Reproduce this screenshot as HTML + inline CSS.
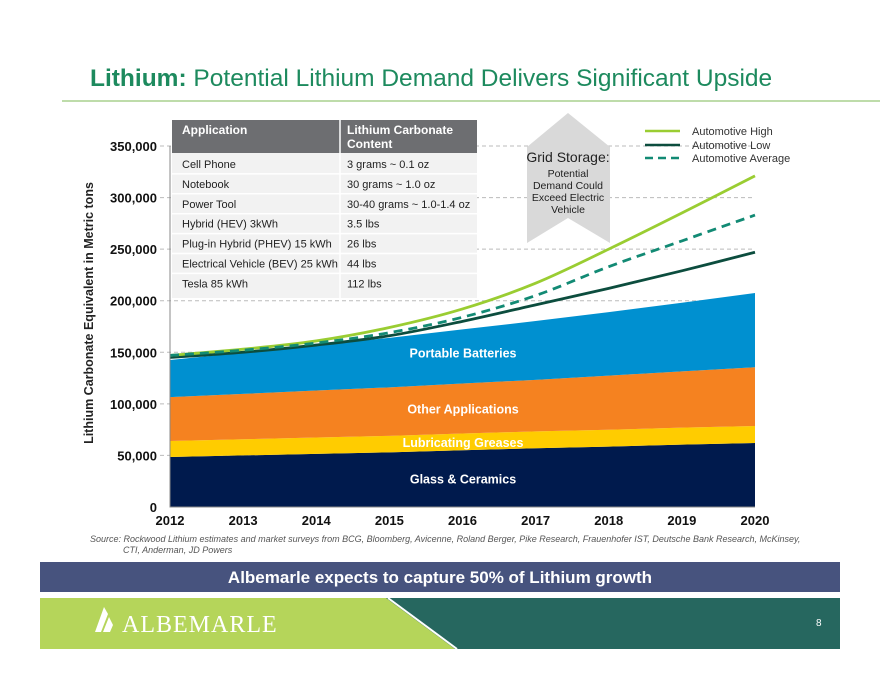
<!DOCTYPE html>
<html><head><meta charset="utf-8"><style>
body{margin:0;background:#fff;font-family:"Liberation Sans",Arial,sans-serif;}
svg{display:block}
</style></head><body>
<svg id="c" width="880" height="680" viewBox="0 0 880 680" xmlns="http://www.w3.org/2000/svg" font-family="Liberation Sans, Arial, sans-serif">
<text x="90" y="86" font-size="24.5" fill="#1d8a5e"><tspan font-weight="bold">Lithium:</tspan> Potential Lithium Demand Delivers Significant Upside</text>
<line x1="62" y1="101" x2="880" y2="101" stroke="#a8d08d" stroke-width="1.5"/>
<g id="grid"></g>
<g id="areas"></g>
<g id="lines"></g>
<g id="axes"></g>
<text transform="translate(93,313) rotate(-90)" text-anchor="middle" font-size="12.5" font-weight="bold" fill="#222">Lithium Carbonate Equivalent in Metric tons</text>
<g id="table"></g>
<g>
<polygon points="527,147 568,113 610,147 610,243 568,218 527,243" fill="#d9d9d9"/>
<text x="568" y="162" text-anchor="middle" font-size="14" fill="#222">Grid Storage:</text>
<text x="568" y="177" text-anchor="middle" font-size="10.5" fill="#222">Potential</text>
<text x="568" y="189" text-anchor="middle" font-size="10.5" fill="#222">Demand Could</text>
<text x="568" y="201" text-anchor="middle" font-size="10.5" fill="#222">Exceed Electric</text>
<text x="568" y="213" text-anchor="middle" font-size="10.5" fill="#222">Vehicle</text>
</g>
<g font-size="11" fill="#333">
<g><line x1="645" y1="131" x2="680" y2="131" stroke="#9acd32" stroke-width="2.5"/><text x="692" y="135">Automotive High</text></g>
<g><line x1="645" y1="145" x2="680" y2="145" stroke="#0c4d3e" stroke-width="2.5"/><text x="692" y="149">Automotive Low</text></g>
<g><line x1="645" y1="158" x2="680" y2="158" stroke="#128a74" stroke-width="2.5" stroke-dasharray="8,5"/><text x="692" y="162">Automotive Average</text></g>
</g>
<text x="90" y="542" font-size="9" font-style="italic" fill="#555">Source: Rockwood Lithium estimates and market surveys from BCG, Bloomberg, Avicenne, Roland Berger, Pike Research, Frauenhofer IST, Deutsche Bank Research, McKinsey,</text>
<text x="123" y="553" font-size="9" font-style="italic" fill="#555">CTI, Anderman, JD Powers</text>
<rect x="40" y="562" width="800" height="30" fill="#47537e"/>
<text x="440" y="583" text-anchor="middle" font-size="17" font-weight="bold" fill="#fff">Albemarle expects to capture 50% of Lithium growth</text>
<g>
<rect x="40" y="598" width="800" height="51" fill="#26675f"/>
<polygon points="40,598 386,598 455,649 40,649" fill="#b5d55a"/>
<line x1="388" y1="598" x2="457" y2="649" stroke="#fff" stroke-width="2"/>
<text x="122" y="632" font-family="Liberation Serif, serif" font-size="24" fill="#fff" letter-spacing="1">ALBEMARLE</text>
<polygon points="95,632 104,607 108,614 101,632" fill="#fff"/>
<polygon points="103,632 109,617 113,625 110,632" fill="#fff"/>
<text x="816" y="626" font-size="10" fill="#fff">8</text>
</g>
</svg>
<script>
const years=[2012,2013,2014,2015,2016,2017,2018,2019,2020];
const glass=[48500,50000,51500,53000,55000,57000,58500,60500,62000];
const greases=[15500,15700,15900,16000,16200,16300,16400,16500,16500];
const other=[42500,44000,45500,47000,48500,50000,52500,54500,57000];
const batteries=[36000,40000,44000,48000,52500,57000,61500,66500,72000];
const autoHigh=[147000,153000,161000,174000,192000,217000,250000,285000,321000];
const autoAvg=[147000,152000,159000,169000,184000,205000,233000,258000,283000];
const autoLow=[145000,150000,157000,166000,180000,196000,212000,229000,247000];
const yTicks=[0,50000,100000,150000,200000,250000,300000,350000];
const tableRows=[["Cell Phone","3 grams ~ 0.1 oz"],["Notebook","30 grams ~ 1.0 oz"],["Power Tool","30-40 grams ~ 1.0-1.4 oz"],["Hybrid (HEV) 3kWh","3.5 lbs"],["Plug-in Hybrid (PHEV) 15 kWh","26 lbs"],["Electrical Vehicle (BEV) 25 kWh","44 lbs"],["Tesla 85 kWh","112 lbs"]];
const NS="http://www.w3.org/2000/svg";
const X=y=>170+(y-2012)*(585/8);
const Y=v=>507-v*(361/350000);
function mk(t,a,p){const e=document.createElementNS(NS,t);for(const k in a)e.setAttribute(k,a[k]);p.appendChild(e);return e;}
const g=document.getElementById('grid'),ax=document.getElementById('axes');
yTicks.forEach(v=>{
 if(v>0){const l=mk('line',{x1:160,x2:755,y1:Y(v),y2:Y(v),stroke:'#bbb','stroke-dasharray':'4,3'},g);
 }
 const t=mk('text',{x:157,y:Y(v)+5,'text-anchor':'end','font-size':13,'font-weight':'bold',fill:'#111'},ax);
 t.textContent=v.toLocaleString('en-US');
 
});
years.forEach(yr=>{const t=mk('text',{x:X(yr),y:525,'text-anchor':'middle','font-size':13,'font-weight':'bold',fill:'#111'},ax);t.textContent=yr;
 });
const axl=mk('path',{d:`M170,${Y(350000)}V507H755`,stroke:'#888',fill:'none'},ax);

const A=document.getElementById('areas');
const layers=[["glass-ceramics",glass,"#001a4d","Glass & Ceramics"],["lubricating-greases",greases,"#ffcc00","Lubricating Greases"],["other-applications",other,"#f58220","Other Applications"],["portable-batteries",batteries,"#0090d0","Portable Batteries"]];
let base=years.map(()=>0);
layers.forEach(([n,vals,col,lab])=>{
 const top=base.map((b,i)=>b+vals[i]);
 let d='M'+years.map((y,i)=>X(y)+','+Y(top[i])).join('L');
 for(let i=years.length-1;i>=0;i--)d+='L'+X(years[i])+','+Y(base[i]);
 const p=mk('path',{d:d+'Z',fill:col},A);
 
 const mid=(top[4]+base[4])/2;
 const t=mk('text',{x:463,y:Y(mid)+5+(n==='portable-batteries'?-4:0),'text-anchor':'middle','font-size':12.5,'font-weight':'bold',fill:'#fff'},A);
 t.textContent=lab;
 base=top;
});
function smooth(vals){const p=years.map((y,i)=>[X(y),Y(vals[i])]);let d='M'+p[0];
 for(let i=0;i<p.length-1;i++){const a=p[i-1]||p[i],b=p[i],c=p[i+1],e=p[i+2]||c;
 d+=`C${b[0]+(c[0]-a[0])/6},${b[1]+(c[1]-a[1])/6} ${c[0]-(e[0]-b[0])/6},${c[1]-(e[1]-b[1])/6} ${c[0]},${c[1]}`;}return d;}
const L=document.getElementById('lines');
[["line-automotive-low",autoLow,"#0c4d3e",""],["line-automotive-high",autoHigh,"#9acd32",""],["line-automotive-average",autoAvg,"#128a74","9,6"]].forEach(([n,v,c,da])=>{
 const p=mk('path',{d:smooth(v),stroke:c,'stroke-width':2.8,fill:'none','stroke-dasharray':da},L);
 });
const T=document.getElementById('table');
mk('rect',{x:172,y:120,width:305,height:178,fill:'#f2f2f2'},T);
mk('rect',{x:172,y:120,width:305,height:33,fill:'#6d6e71'},T);
mk('line',{x1:340,y1:120,x2:340,y2:298,stroke:'#fff','stroke-width':1.5},T);
[['Application',182],['Lithium Carbonate',347]].forEach(([s,x])=>{const t=mk('text',{x:x,y:134,'font-size':12,'font-weight':'bold',fill:'#fff'},T);t.textContent=s;});
const ct=mk('text',{x:347,y:148,'font-size':12,'font-weight':'bold',fill:'#fff'},T);ct.textContent='Content';
tableRows.forEach((r,i)=>{const y0=154+i*19.9;
 if(i>0)mk('line',{x1:172,x2:477,y1:y0,y2:y0,stroke:'#fff','stroke-width':1.5},T);
 const a=mk('text',{x:182,y:y0+14,'font-size':11,fill:'#222'},T);a.textContent=r[0];
 const b=mk('text',{x:347,y:y0+14,'font-size':11,fill:'#222'},T);b.textContent=r[1];});
</script>
</body></html>
